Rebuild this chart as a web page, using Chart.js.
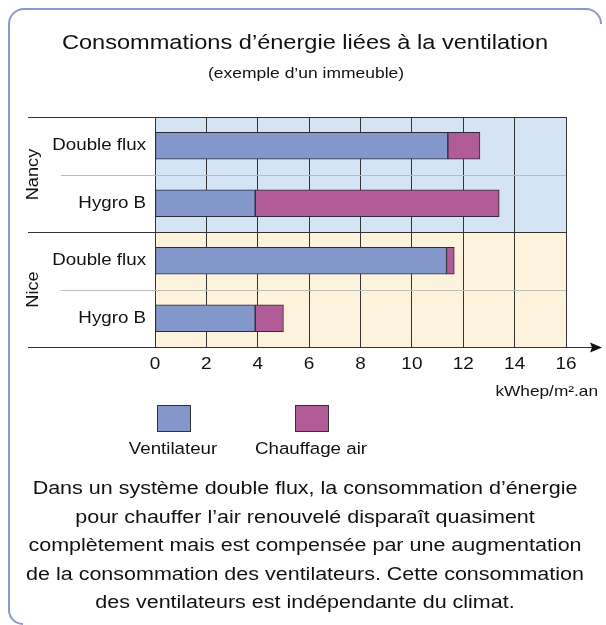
<!DOCTYPE html>
<html>
<head>
<meta charset="utf-8">
<script src="https://cdn.jsdelivr.net/npm/chart.js@4/dist/chart.umd.min.js"></script>
<style>
  body { margin: 0; background: #fff; }
  canvas { display: block; }
</style>
</head>
<body>
<canvas id="chart" width="606" height="625"></canvas>
<script>
const categories = ['Double flux', 'Hygro B', 'Double flux', 'Hygro B'];
const cities = ['Nancy', 'Nice'];
const ventilateur = [11.4, 3.9, 11.35, 3.9];
const chauffage = [1.25, 9.5, 0.3, 1.1];
const unitLabel = 'kWhep/m\u00b2.an';
const title = 'Consommations d\u2019\u00e9nergie li\u00e9es \u00e0 la ventilation';
const subtitle = '(exemple d\u2019un immeuble)';
const note = [
  'Dans un syst\u00e8me double flux, la consommation d\u2019\u00e9nergie',
  'pour chauffer l\u2019air renouvel\u00e9 dispara\u00eet quasiment',
  'compl\u00e8tement mais est compens\u00e9e par une augmentation',
  'de la consommation des ventilateurs. Cette consommation',
  'des ventilateurs est ind\u00e9pendante du climat.'
];

const FONT = "'Liberation Sans', Arial, sans-serif";
const STRETCH = 1.15; // reference type is wider than Arial
const groupBg = ['#d4e4f5', '#fdf2dc'];

// wide text helper
function txt(ctx, s, x, y, size, align, base) {
  ctx.save();
  ctx.font = size + 'px ' + FONT;
  ctx.textAlign = align || 'center';
  ctx.textBaseline = base || 'middle';
  ctx.translate(x, y);
  ctx.scale(STRETCH, 1);
  ctx.fillText(s, 0, 0);
  ctx.restore();
}

const decor = {
  id: 'decor',
  beforeDraw(chart) {
    const {ctx, chartArea: a, scales: {y}} = chart;
    ctx.save();
    ctx.fillStyle = '#fff';
    ctx.fillRect(0, 0, chart.width, chart.height);
    const band = (a.bottom - a.top) / categories.length;
    cities.forEach((c, g) => {
      const top = y.getPixelForValue(g * 2) - band / 2;
      ctx.fillStyle = groupBg[g];
      ctx.fillRect(a.left, top, a.right - a.left, band * 2);
    });
    ctx.restore();
  },
  afterDraw(chart) {
    const {ctx, chartArea: a, scales: {x, y}} = chart;
    const band = (a.bottom - a.top) / categories.length;
    ctx.save();

    // separators
    ctx.lineWidth = 1;
    ctx.strokeStyle = '#bbb';
    [1, 3].forEach(i => {
      const yy = Math.round(y.getPixelForValue(i) - band / 2) + 0.5;
      ctx.beginPath(); ctx.moveTo(61, yy); ctx.lineTo(a.right, yy); ctx.stroke();
    });
    ctx.strokeStyle = '#333';
    [0, 2].forEach(i => {
      const yy = Math.round(y.getPixelForValue(i) - band / 2) + 0.5;
      ctx.beginPath(); ctx.moveTo(28, yy); ctx.lineTo(a.right, yy); ctx.stroke();
    });
    // axis with arrow
    const ay = Math.round(a.bottom) + 0.5;
    ctx.beginPath(); ctx.moveTo(28, ay); ctx.lineTo(594, ay); ctx.stroke();
    ctx.fillStyle = '#111';
    ctx.beginPath(); ctx.moveTo(602, ay); ctx.lineTo(590, ay - 5); ctx.lineTo(592, ay); ctx.lineTo(590, ay + 5); ctx.closePath(); ctx.fill();

    // tick labels
    x.ticks.forEach(t => txt(ctx, String(t.value), x.getPixelForValue(t.value), 364, 16.5));

    // category labels
    categories.forEach((c, i) => txt(ctx, c, 146, y.getPixelForValue(i), 16.3, 'right'));

    // city labels (rotated)
    cities.forEach((c, g) => {
      const cy = y.getPixelForValue(g * 2) + band / 2;
      ctx.save();
      ctx.translate(34, cy);
      ctx.rotate(-Math.PI / 2);
      txt(ctx, c, 0, 0, 15.8);
      ctx.restore();
    });

    // unit label
    txt(ctx, unitLabel, 598, 392, 15, 'right');

    // legend
    const legendX = [173, 311];
    chart.data.datasets.forEach((ds, i) => {
      ctx.fillStyle = ds.backgroundColor;
      ctx.fillRect(legendX[i] - 16, 405, 33, 26);
      ctx.strokeStyle = '#333';
      ctx.strokeRect(legendX[i] - 16 + 0.5, 405.5, 33, 26);
      ctx.fillStyle = '#111';
      txt(ctx, ds.label, legendX[i], 450, 16.3);
    });

    // titles
    txt(ctx, title, 305, 49, 20.5, 'center', 'alphabetic');
    txt(ctx, subtitle, 306, 78, 15.2, 'center', 'alphabetic');

    // note
    note.forEach((l, i) => txt(ctx, l, 305, 494 + i * 28.5, 18.7, 'center', 'alphabetic'));

    // frame
    ctx.strokeStyle = '#8e96d2';
    ctx.lineWidth = 2;
    ctx.beginPath();
    ctx.moveTo(601, 24);
    ctx.arcTo(601, 9, 586, 9, 15);
    ctx.lineTo(24, 9);
    ctx.arcTo(9, 9, 9, 24, 15);
    ctx.lineTo(9, 610);
    ctx.arcTo(9, 624, 24, 624, 14);
    ctx.stroke();
    ctx.restore();
  }
};

new Chart(document.getElementById('chart'), {
  type: 'bar',
  data: {
    labels: categories,
    datasets: [
      { label: 'Ventilateur', data: ventilateur, backgroundColor: '#8497cb', borderColor: '#2b2b3a', borderWidth: 1, borderSkipped: false },
      { label: 'Chauffage air', data: chauffage, backgroundColor: '#b15c97', borderColor: '#2b2b3a', borderWidth: 1, borderSkipped: false }
    ]
  },
  options: {
    indexAxis: 'y',
    responsive: false,
    animation: false,
    barThickness: 27,
    layout: { padding: { left: 155, right: 40, top: 117, bottom: 248 } },
    plugins: { legend: { display: false }, tooltip: { enabled: false } },
    scales: {
      x: {
        stacked: true,
        min: 0, max: 16,
        ticks: { stepSize: 2, display: false },
        grid: { color: '#333', drawTicks: false },
        border: { display: false },
        afterFit(scale) { scale.height = 30; }
      },
      y: { stacked: true, display: false }
    }
  },
  plugins: [decor]
});
</script>
</body>
</html>
